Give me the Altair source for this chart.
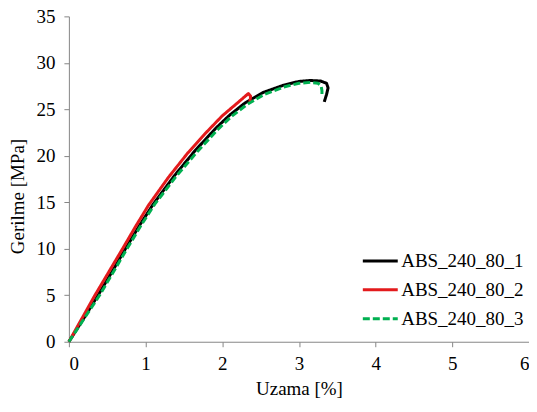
import altair as alt
import pandas as pd

series_names = ["ABS_240_80_1", "ABS_240_80_2", "ABS_240_80_3"]

x1 = [0.0, 0.2, 0.38, 0.56, 0.73, 0.92, 1.10, 1.38, 1.65, 1.92, 2.10, 2.30, 2.53, 2.80, 3.00, 3.14, 3.28, 3.36, 3.38, 3.36, 3.33]
y1 = [0.0, 2.6, 5.0, 7.5, 9.9, 12.5, 14.8, 17.9, 20.6, 23.0, 24.4, 25.7, 26.8, 27.6, 28.0, 28.1, 28.05, 27.8, 27.3, 26.6, 25.8]

x2 = [0.0, 0.17, 0.34, 0.52, 0.70, 0.87, 1.04, 1.30, 1.55, 1.79, 2.00, 2.20, 2.34, 2.37, 2.36]
y2 = [0.0, 2.5, 5.0, 7.5, 10.0, 12.4, 14.7, 17.7, 20.3, 22.5, 24.3, 25.7, 26.7, 26.4, 25.8]

x3 = [0.0, 0.2, 0.40, 0.58, 0.75, 0.94, 1.12, 1.40, 1.68, 1.95, 2.13, 2.32, 2.55, 2.80, 3.00, 3.15, 3.25, 3.29, 3.30, 3.30]
y3 = [0.0, 2.5, 5.0, 7.5, 9.9, 12.5, 14.8, 17.8, 20.5, 22.9, 24.3, 25.5, 26.6, 27.4, 27.8, 27.9, 27.8, 27.5, 27.0, 26.6]

rows = []
for name, xs, ys in zip(series_names, [x1, x2, x3], [y1, y2, y3]):
    for i, (a, b) in enumerate(zip(xs, ys)):
        rows.append({"series": name, "x": a, "y": b, "ord": i})
df = pd.DataFrame(rows)

colors = ["#000000", "#E31A1C", "#00B050"]
dashes = [[1, 0], [1, 0], [7, 3]]
FONT = "Liberation Serif, Times New Roman, serif"

chart = alt.Chart(df).mark_line(strokeWidth=3, strokeJoin="round").encode(
    x=alt.X("x:Q", scale=alt.Scale(domain=[0, 6], nice=False),
            axis=alt.Axis(title="Uzama [%]", values=[0, 1, 2, 3, 4, 5, 6], format="d",
                          labelPadding=8, titlePadding=6)),
    y=alt.Y("y:Q", scale=alt.Scale(domain=[0, 35], nice=False),
            axis=alt.Axis(title="Gerilme [MPa]", values=[0, 5, 10, 15, 20, 25, 30, 35],
                          labelPadding=9, titleX=-51, titleY=180, titleAngle=270,
                          titleBaseline="middle", titleAlign="center")),
    color=alt.Color("series:N", scale=alt.Scale(domain=series_names, range=colors),
                    legend=alt.Legend(title=None, orient="none", legendX=293, legendY=226,
                                      symbolType="stroke", symbolSize=1225,
                                      symbolStrokeWidth=3, labelOffset=2,
                                      labelFontSize=19, rowPadding=0,
                                      labelFont=FONT, labelColor="#000000")),
    strokeDash=alt.StrokeDash("series:N", scale=alt.Scale(domain=series_names, range=dashes),
                              legend=None),
    order="ord:Q",
).properties(
    width=461, height=326,
    autosize=alt.AutoSizeParams(type="none"),
    padding={"left": 61, "top": 8, "right": 0, "bottom": 60},
).configure(font=FONT).configure_view(stroke=None).configure_axis(
    grid=False, domainColor="#868686", tickColor="#868686", tickSize=5,
    labelFont=FONT, titleFont=FONT,
    labelFontSize=19, titleFontSize=19, labelColor="#000000", titleColor="#000000",
    titleFontWeight="normal",
)

chart.save("out.html", embed_options={"renderer": "svg", "actions": False})
